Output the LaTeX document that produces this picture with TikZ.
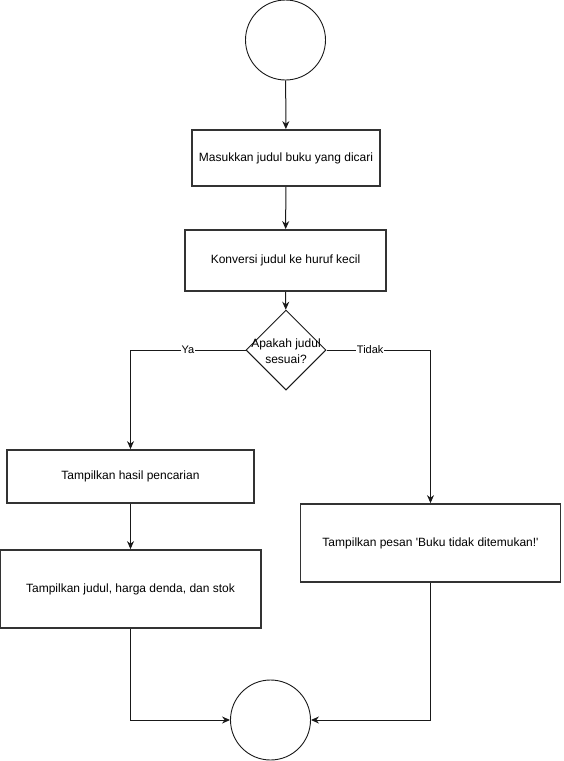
\documentclass[tikz,border=0pt]{standalone}
\usepackage{fontspec}
\setmainfont{Liberation Sans}
\usetikzlibrary{shapes.geometric,arrows.meta}

\colorlet{garis}{black!90}
\colorlet{tepi} {black!80}

\tikzset{
  terminal/.style={circle, draw=garis, line width=0.9pt, minimum size=80pt, inner sep=0pt},
  proses/.style={rectangle, draw=tepi, line width=1.8pt, inner sep=0pt, font=\fontsize{12}{14}\selectfont},
  keputusan/.style={diamond, draw=garis, line width=1pt, minimum width=80pt, minimum height=80pt, inner sep=0pt},
  panah/.style={draw=garis, line width=1pt, -{Stealth[length=8pt,width=7pt]}},
  ket/.style={fill=white, inner sep=1pt, font=\fontsize{11}{12}\selectfont}
}

\begin{document}
\begin{tikzpicture}[x=1pt, y=-1pt]
        \useasboundingbox (0,0) rectangle (563,761);
        \node[terminal] (mulai) at (285.5,40) {};
        \node[proses, minimum width=188pt, minimum height=56pt] (masuk) at (286,158)
              {Masukkan judul buku yang dicari};
        \node[proses, minimum width=201pt, minimum height=61pt] (konversi) at (285.5,260.5)
              {Konversi judul ke huruf kecil};
        \node[keputusan] (cek) at (286,350) {};
        \node[align=center, inner sep=0pt, font=\fontsize{12}{16}\selectfont] (tanya) at (286,351)
              {Apakah judul\\sesuai?};
        \node[proses, minimum width=247pt, minimum height=53pt] (hasil) at (130.5,476.5)
              {Tampilkan hasil pencarian};
        \node[proses, minimum width=261pt, minimum height=78pt] (judul) at (130.5,589)
              {Tampilkan judul, harga denda, dan stok};
        \node[proses, minimum width=260pt, minimum height=78pt] (pesan) at (430.5,543)
              {Tampilkan pesan \textquotesingle Buku tidak ditemukan!\textquotesingle};
        \node[terminal] (selesai) at (270.5,720) {};

        \draw[panah] (mulai) -- (masuk);
        \draw[panah] (masuk) -- (konversi);
        \draw[panah] (konversi) -- (cek);
        \draw[panah] (cek.west) -| node[pos=0.25, ket]{Ya} (hasil.north);
        \draw[panah] (cek.east) -| node[pos=0.21, ket]{Tidak} (pesan.north);
        \draw[panah] (hasil) -- (judul);
        \draw[panah] (judul.south) |- (selesai.west);
        \draw[panah] (pesan.south) |- (selesai.east);
      \end{tikzpicture}
\end{document}
